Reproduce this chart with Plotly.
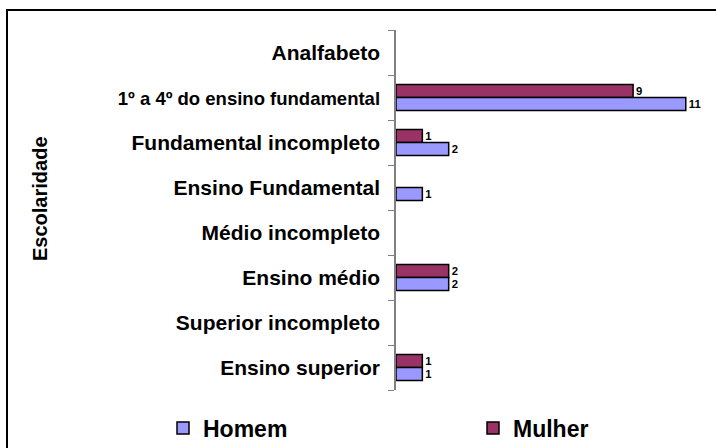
import plotly.graph_objects as go

categories = ["Analfabeto", "1º a 4º do ensino fundamental", "Fundamental incompleto",
              "Ensino Fundamental", "Médio incompleto", "Ensino médio",
              "Superior incompleto", "Ensino superior"]
homem = [0, 11, 2, 1, 0, 2, 0, 1]
mulher = [0, 9, 1, 0, 0, 2, 0, 1]

FONT = "Arial, Liberation Sans, sans-serif"
W, H = 716, 448
L, T = 396, 30
R = 16
B = H - 390
pw, ph = W - L - R, H - T - B

def px_x(x):
    return (x - L) / pw

def px_y(y):
    return (H - B - y) / ph

def lab(v):
    return ["<b>%d</b>" % x if x else "" for x in v]

def nz(v):
    # zero counts draw no bar (as in the original)
    return [x if x else None for x in v]

def ticklab(c):
    if len(c) > 24:
        return "<b><span style='font-size:18.5px'>%s</span></b>" % c
    return "<b>%s</b>" % c

fig = go.Figure()
fig.add_trace(go.Bar(
    y=categories, x=nz(mulher), orientation="h", name="<b>Mulher</b>",
    marker=dict(color="#993366", line=dict(color="black", width=1.5)),
    text=lab(mulher), textposition="outside", cliponaxis=False,
    textfont=dict(family=FONT, size=13, color="black"),
    legend="legend2"))
fig.add_trace(go.Bar(
    y=categories, x=nz(homem), orientation="h", name="<b>Homem</b>",
    marker=dict(color="#9999FF", line=dict(color="black", width=1.5)),
    text=lab(homem), textposition="outside", cliponaxis=False,
    textfont=dict(family=FONT, size=13, color="black"),
    legend="legend"))

fig.update_layout(
    width=W, height=H,
    margin=dict(l=L, r=R, t=T, b=B, autoexpand=False),
    paper_bgcolor="white", plot_bgcolor="white",
    barmode="group", bargap=0.42, bargroupgap=0,
    font=dict(family=FONT, color="black"),
    xaxis=dict(range=[0, 11.54], visible=False, fixedrange=True),
    yaxis=dict(categoryorder="array", categoryarray=categories, autorange="reversed",
               tickmode="array", tickvals=categories,
               ticktext=[ticklab(c) for c in categories],
               showline=True, linecolor="#808080", linewidth=1.5,
               ticks="outside", tickson="boundaries", ticklen=6, tickcolor="#808080",
               tickfont=dict(family=FONT, size=21, color="black"),
               ticklabelstandoff=10, showgrid=False, automargin=False, fixedrange=True),
    legend=dict(x=px_x(163), xanchor="left", y=px_y(428), yanchor="middle",
                orientation="h", font=dict(family=FONT, size=23),
                bgcolor="rgba(0,0,0,0)", itemwidth=30),
    legend2=dict(x=px_x(473), xanchor="left", y=px_y(428), yanchor="middle",
                 orientation="h", font=dict(family=FONT, size=23),
                 bgcolor="rgba(0,0,0,0)", itemwidth=30),
    showlegend=True,
    annotations=[dict(text="<b>Escolaridade</b>", x=px_x(40), y=px_y(199),
                      xref="paper", yref="paper", xanchor="center", yanchor="middle",
                      textangle=-90, showarrow=False,
                      font=dict(family=FONT, size=20, weight="bold"))],
    shapes=[dict(type="rect", xref="paper", yref="paper",
                 x0=px_x(7), x1=px_x(730),
                 y0=px_y(470), y1=px_y(10),
                 line=dict(color="black", width=2), layer="below")],
)
fig.write_html("out.html", config={"displayModeBar": False},
               post_script="document.body.style.margin='0';")
